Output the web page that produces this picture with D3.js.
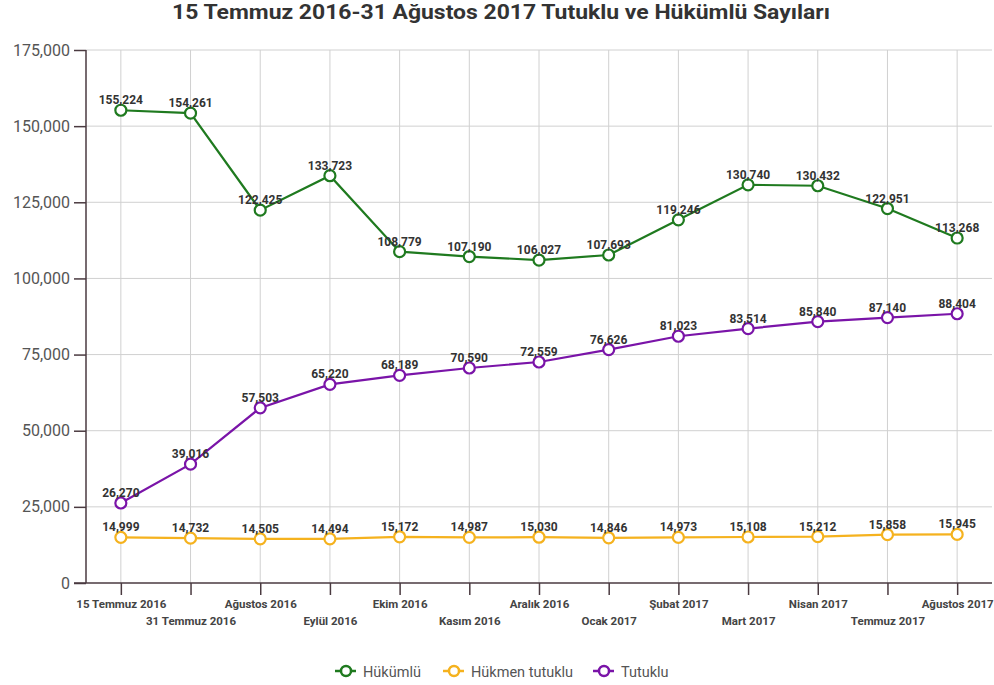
<!DOCTYPE html>
<html><head><meta charset="utf-8">
<script src="https://cdn.jsdelivr.net/npm/d3@7"></script>
<style>body{margin:0;background:#fff;font-family:Roboto,sans-serif}</style>
</head><body><svg id="c" width="994" height="685"></svg>
<script>
const categories = ["15 Temmuz 2016","31 Temmuz 2016","Ağustos 2016","Eylül 2016","Ekim 2016","Kasım 2016","Aralık 2016","Ocak 2017","Şubat 2017","Mart 2017","Nisan 2017","Temmuz 2017","Ağustos 2017"];
const hukumlu = [155224,154261,122425,133723,108779,107190,106027,107693,119246,130740,130432,122951,113268];
const hukmenTutuklu = [14999,14732,14505,14494,15172,14987,15030,14846,14973,15108,15212,15858,15945];
const tutuklu = [26270,39016,57503,65220,68189,70590,72559,76626,81023,83514,85840,87140,88404];
const yTicks = [0,25000,50000,75000,100000,125000,150000,175000];
const seriesNames = ["Hükümlü","Hükmen tutuklu","Tutuklu"];
const seriesColors = ["#1f7a1f","#f5b21e","#7a14a8"];
const title = "15 Temmuz 2016-31 Ağustos 2017 Tutuklu ve Hükümlü Sayıları";

const series = [hukumlu, hukmenTutuklu, tutuklu];
const svg = d3.select("#c");
const L = 86, R = 992, T = 50, B = 583;
const x = d3.scalePoint().domain(categories).range([L, R]).padding(0.5);
const y = d3.scaleLinear().domain([0,175000]).range([B, T]);
const fmt = d3.format(",");

svg.append("text").attr("x",501).attr("y",19).attr("text-anchor","middle")
  .attr("font-size",21).attr("font-weight","bold").attr("fill","#333")
  .attr("textLength",658).attr("lengthAdjust","spacingAndGlyphs").text(title);

// grid
svg.append("g").selectAll("line").data(yTicks.filter(d=>d>0)).join("line")
  .attr("x1",L).attr("x2",R).attr("y1",d=>y(d)).attr("y2",d=>y(d))
  .attr("stroke","#d0d0d0").attr("stroke-width",1);
svg.append("g").selectAll("line").data(categories).join("line")
  .attr("x1",d=>x(d)).attr("x2",d=>x(d)).attr("y1",T).attr("y2",B)
  .attr("stroke","#d0d0d0").attr("stroke-width",1);

// y axis
const ya = svg.append("g").attr("transform",`translate(${L},0)`)
  .call(d3.axisLeft(y).tickValues(yTicks).tickFormat(fmt).tickSize(12).tickPadding(4));
ya.select(".domain").attr("stroke","#4a3a40").attr("stroke-width",1.5).attr("d",`M0,${T}V${B}`);
ya.selectAll(".tick line").attr("stroke","#4a3a40").attr("stroke-width",1.5);
ya.selectAll(".tick text").attr("font-size",16).attr("fill","#555").attr("font-family","Roboto");

// x axis
const xa = svg.append("g").attr("transform",`translate(0,${B})`)
  .call(d3.axisBottom(x).tickSize(12).tickPadding(4));
xa.select(".domain").attr("stroke","#4a3a40").attr("stroke-width",1.5).attr("d",`M${L-12},0H${R}`);
xa.selectAll(".tick line").attr("stroke","#4a3a40").attr("stroke-width",1.5);
xa.selectAll(".tick text").attr("font-size",11.5).attr("font-weight","bold").attr("fill","#444")
  .attr("font-family","Roboto").attr("dy",(d,i)=> i%2 ? "2.3em" : "0.8em");

// lines
const line = d3.line().x((d,i)=>x(categories[i])).y(d=>y(d));
series.forEach((s,k)=>{
  const g = svg.append("g");
  g.append("path").datum(s).attr("d",line).attr("fill","none")
    .attr("stroke",seriesColors[k]).attr("stroke-width",2.2);
  g.selectAll("circle").data(s).join("circle")
    .attr("cx",(d,i)=>x(categories[i])).attr("cy",d=>y(d)).attr("r",5.5)
    .attr("fill","#fff").attr("stroke",seriesColors[k]).attr("stroke-width",2.2);
  g.selectAll("text").data(s).join("text")
    .attr("x",(d,i)=>x(categories[i])).attr("y",d=>y(d)-6)
    .attr("text-anchor","middle").attr("font-size",12).attr("font-weight","bold")
    .attr("fill","#333").text(d=>fmt(d));
});

// legend
const legX = [346, 454, 604];
seriesNames.forEach((n,k)=>{
  const g = svg.append("g").attr("transform",`translate(${legX[k]},671)`);
  g.append("line").attr("x1",-11).attr("x2",10).attr("stroke",seriesColors[k]).attr("stroke-width",2.5);
  g.append("circle").attr("r",5).attr("fill","#fff").attr("stroke",seriesColors[k]).attr("stroke-width",2.5);
  g.append("text").attr("x",17).attr("y",6).attr("font-size",14.5).attr("fill","#555").text(n);
});
</script></body></html>
